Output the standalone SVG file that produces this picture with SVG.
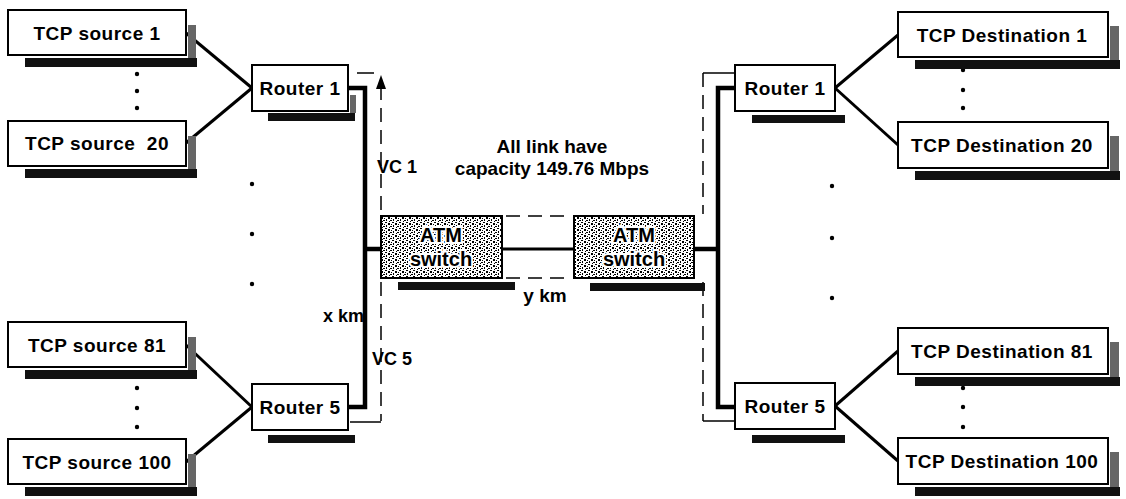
<svg xmlns="http://www.w3.org/2000/svg" width="1126" height="499" viewBox="0 0 1126 499">
<defs>
<pattern id="noise" width="7" height="6" patternUnits="userSpaceOnUse">
<rect width="7" height="6" fill="#fff"/>
<rect x="0" y="0" width="2" height="1" fill="#000"/>
<rect x="3" y="1" width="2" height="2" fill="#000"/>
<rect x="1" y="3" width="1" height="2" fill="#000"/>
<rect x="5" y="4" width="2" height="1" fill="#000"/>
<rect x="4" y="5" width="1" height="1" fill="#000"/>
<rect x="6" y="2" width="1" height="1" fill="#000"/>
</pattern>
<style>
.box{fill:#fff;stroke:#000;stroke-width:2}
.sh{fill:#111}
.shr{fill:#666}
.t{font-family:"Liberation Sans",Arial,sans-serif;font-weight:bold;font-size:19px;letter-spacing:0.5px;fill:#000}
.lab{font-family:"Liberation Sans",Arial,sans-serif;font-weight:bold;font-size:18px;fill:#000}
.atm{font-family:"Liberation Sans",Arial,sans-serif;font-weight:bold;font-size:20px;fill:#000;stroke:#fff;stroke-width:4px;paint-order:stroke}
.ln{fill:none;stroke:#000;stroke-width:3}
.trunk{fill:none;stroke:#000;stroke-width:4.5}
.dash{fill:none;stroke:#000;stroke-width:1.5;stroke-dasharray:14 8}
.thin{fill:none;stroke:#000;stroke-width:1.5}
.dot{fill:#000}
.head{fill:#000}
</style>
</defs>

<g id="connectors">
<line class="ln" x1="186" y1="33" x2="252" y2="88"/>
<line class="ln" x1="186" y1="143" x2="252" y2="88"/>
<line class="ln" x1="186" y1="345" x2="252" y2="407"/>
<line class="ln" x1="186" y1="462" x2="252" y2="407"/>
<line class="ln" x1="835" y1="88" x2="898" y2="35"/>
<line class="ln" x1="835" y1="88" x2="898" y2="145"/>
<line class="ln" x1="835" y1="406" x2="898" y2="351"/>
<line class="ln" x1="835" y1="406" x2="898" y2="461"/>
<polyline class="trunk" points="348,88 365,88 365,407 349,407"/>
<line class="trunk" x1="365" y1="249" x2="381" y2="249"/>
<line class="ln" x1="502" y1="249" x2="574" y2="249"/>
<line class="trunk" x1="694" y1="249" x2="718" y2="249"/>
<polyline class="trunk" points="735,88 718,88 718,407 735,407"/>
<line class="dash" x1="381" y1="86" x2="381" y2="214"/>
<polygon class="head" points="381,75 386,89 376,89"/>
<line class="dash" x1="381" y1="282" x2="381" y2="421"/>
<line class="thin" x1="357" y1="73" x2="374" y2="73"/>
<line class="thin" x1="350" y1="422" x2="381" y2="422"/>
<line class="dash" x1="506" y1="216" x2="572" y2="216"/>
<line class="dash" x1="506" y1="278" x2="572" y2="278"/>
<line class="dash" x1="703" y1="73" x2="703" y2="214"/>
<line class="dash" x1="703" y1="282" x2="703" y2="421"/>
<line class="thin" x1="703" y1="73" x2="735" y2="73"/>
<line class="thin" x1="703" y1="421" x2="735" y2="421"/>
</g>

<g id="src1">
<rect class="sh" x="25" y="58" width="172" height="9"/>
<rect class="shr" x="188" y="25" width="8" height="33"/>
<rect class="box" x="8" y="10" width="178" height="45"/>
<text class="t" x="97" y="40" text-anchor="middle">TCP source 1</text>
</g>
<g id="src20">
<rect class="sh" x="25" y="169" width="172" height="9"/>
<rect class="shr" x="188" y="136" width="8" height="33"/>
<rect class="box" x="8" y="121" width="178" height="45"/>
<text class="t" x="97" y="150" text-anchor="middle" xml:space="preserve">TCP source  20</text>
</g>
<g id="src81">
<rect class="sh" x="25" y="370" width="172" height="9"/>
<rect class="shr" x="188" y="337" width="8" height="33"/>
<rect class="box" x="8" y="322" width="178" height="45"/>
<text class="t" x="97" y="352" text-anchor="middle">TCP source 81</text>
</g>
<g id="src100">
<rect class="sh" x="25" y="487" width="172" height="9"/>
<rect class="shr" x="188" y="454" width="8" height="33"/>
<rect class="box" x="8" y="439" width="178" height="45"/>
<text class="t" x="97" y="469" text-anchor="middle">TCP source 100</text>
</g>

<g id="dots">
<circle class="dot" cx="137" cy="74" r="2.2"/>
<circle class="dot" cx="137" cy="91" r="2.2"/>
<circle class="dot" cx="137" cy="108" r="2.2"/>
<circle class="dot" cx="137" cy="388" r="2.2"/>
<circle class="dot" cx="137" cy="408" r="2.2"/>
<circle class="dot" cx="137" cy="427" r="2.2"/>
<circle class="dot" cx="252" cy="184" r="2.2"/>
<circle class="dot" cx="252" cy="234" r="2.2"/>
<circle class="dot" cx="252" cy="284" r="2.2"/>
<circle class="dot" cx="963" cy="70" r="2.2"/>
<circle class="dot" cx="963" cy="90" r="2.2"/>
<circle class="dot" cx="963" cy="108" r="2.2"/>
<circle class="dot" cx="963" cy="388" r="2.2"/>
<circle class="dot" cx="963" cy="407" r="2.2"/>
<circle class="dot" cx="963" cy="427" r="2.2"/>
<circle class="dot" cx="832" cy="186" r="2.2"/>
<circle class="dot" cx="832" cy="238" r="2.2"/>
<circle class="dot" cx="832" cy="298" r="2.2"/>
</g>

<g id="router1L">
<rect class="sh" x="268" y="113" width="87" height="8"/>
<rect class="shr" x="350" y="95" width="6" height="18"/>
<rect class="box" x="252" y="65" width="96" height="46"/>
<text class="t" x="300" y="95" text-anchor="middle">Router 1</text>
</g>
<g id="router5L">
<rect class="sh" x="268" y="435" width="87" height="8"/>
<rect class="box" x="252" y="384" width="96" height="46"/>
<text class="t" x="300" y="414" text-anchor="middle">Router 5</text>
</g>
<g id="router1R">
<rect class="sh" x="752" y="115" width="93" height="8"/>
<rect class="box" x="735" y="65" width="100" height="46"/>
<text class="t" x="785" y="95" text-anchor="middle">Router 1</text>
</g>
<g id="router5R">
<rect class="sh" x="752" y="435" width="93" height="8"/>
<rect class="box" x="735" y="383" width="100" height="46"/>
<text class="t" x="785" y="413" text-anchor="middle">Router 5</text>
</g>

<g id="dst1">
<rect class="sh" x="915" y="60" width="205" height="9"/>
<rect class="shr" x="1110" y="26" width="9" height="34"/>
<rect class="box" x="898" y="12" width="210" height="45"/>
<text class="t" x="1002" y="42" text-anchor="middle">TCP Destination 1</text>
</g>
<g id="dst20">
<rect class="sh" x="915" y="171" width="205" height="9"/>
<rect class="shr" x="1110" y="136" width="9" height="35"/>
<rect class="box" x="898" y="122" width="210" height="46"/>
<text class="t" x="1002" y="152" text-anchor="middle">TCP Destination 20</text>
</g>
<g id="dst81">
<rect class="sh" x="915" y="377" width="205" height="9"/>
<rect class="shr" x="1110" y="342" width="9" height="35"/>
<rect class="box" x="898" y="328" width="210" height="46"/>
<text class="t" x="1002" y="358" text-anchor="middle">TCP Destination 81</text>
</g>
<g id="dst100">
<rect class="sh" x="915" y="487" width="205" height="9"/>
<rect class="shr" x="1110" y="452" width="9" height="35"/>
<rect class="box" x="898" y="438" width="210" height="46"/>
<text class="t" x="1002" y="468" text-anchor="middle">TCP Destination 100</text>
</g>

<g id="atm1">
<rect class="sh" x="398" y="282" width="117" height="8"/>
<rect x="381" y="216" width="121" height="62" fill="url(#noise)" stroke="#000" stroke-width="2"/>
<text class="atm" x="441" y="242" text-anchor="middle">ATM</text>
<text class="atm" x="441" y="266" text-anchor="middle">switch</text>
</g>
<g id="atm2">
<rect class="sh" x="590" y="283" width="115" height="8"/>
<rect x="574" y="216" width="120" height="62" fill="url(#noise)" stroke="#000" stroke-width="2"/>
<text class="atm" x="634" y="242" text-anchor="middle">ATM</text>
<text class="atm" x="634" y="266" text-anchor="middle">switch</text>
</g>

<g id="labels">
<text class="lab" x="377" y="173">VC 1</text>
<text class="lab" x="372" y="365">VC 5</text>
<text class="lab" x="323" y="322">x km</text>
<text class="lab" x="545" y="302" text-anchor="middle" style="font-size:19px">y km</text>
<text class="lab" x="552" y="153" text-anchor="middle" style="font-size:19px">All link have</text>
<text class="lab" x="552" y="175" text-anchor="middle" style="font-size:19px">capacity 149.76 Mbps</text>
</g>
</svg>
